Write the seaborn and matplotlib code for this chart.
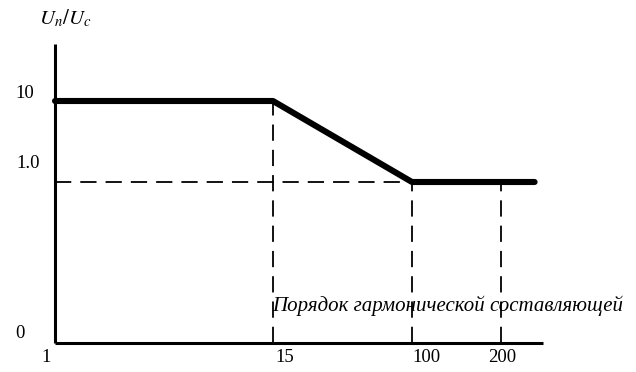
import numpy as np
import matplotlib
matplotlib.use("Agg")
import matplotlib.pyplot as plt
import seaborn as sns
import pandas as pd

# Harmonic-order limit curve (schematic)
orders = [1, 15, 100, 248]
ratio = [10, 10, 1, 1]

# Axis tick values and their labels
tick_orders = [1, 15, 100, 200]
tick_order_labels = ["1", "15", "100", "200"]
tick_levels = [0, 1, 10]
tick_level_labels = ["0", "1.0", "10"]

x_title = "Порядок гармонической составляющей"
y_title = r"$U_n/U_c$"

sns.set_style("white")
plt.rcParams["font.family"] = ["Liberation Serif", "DejaVu Serif"]
plt.rcParams["mathtext.fontset"] = "stix"
plt.rcParams["text.color"] = "black"

fig = plt.figure(figsize=(6.36, 3.72), dpi=100)
ax = fig.add_axes([55 / 636, 29 / 372, 488 / 636, 299 / 372])

# Piecewise schematic scales (not proportional)
xk_val = [1, 15, 100, 200, 260]
xk_pos = [0, 218, 357, 446, 488]
yk_val = [0, 1, 10, 20]
yk_pos = [0, 161, 242, 299]


def fx(v):
    return np.interp(v, xk_val, xk_pos)


def fx_inv(p):
    return np.interp(p, xk_pos, xk_val)


def fy(v):
    return np.interp(v, yk_val, yk_pos)


def fy_inv(p):
    return np.interp(p, yk_pos, yk_val)


ax.set_xscale("function", functions=(fx, fx_inv))
ax.set_yscale("function", functions=(fy, fy_inv))
ax.set_xlim(xk_val[0], xk_val[-1])
ax.set_ylim(yk_val[0], yk_val[-1])

df = pd.DataFrame({"order": orders, "ratio": ratio})

# Dashed guide lines
dash_kw = dict(color="black", lw=1.3, linestyles=(0, (9, 5)))
ax.vlines(orders[1], 0, ratio[1], **dash_kw)
ax.vlines([orders[2], tick_orders[3]], 0, ratio[2], **dash_kw)
ax.hlines(ratio[2], orders[0], orders[2], **dash_kw)

sns.lineplot(data=df, x="order", y="ratio", ax=ax, color="black",
             lw=4.4, solid_capstyle="round", solid_joinstyle="round",
             clip_on=False, zorder=5)

for side in ["top", "right"]:
    ax.spines[side].set_visible(False)
for side in ["left", "bottom"]:
    ax.spines[side].set_linewidth(2.2)
    ax.spines[side].set_color("black")
    ax.spines[side].set_capstyle("butt")

ax.set_xticks([])
ax.set_yticks([])
ax.set_xlabel("")
ax.set_ylabel("")

# Tick labels placed from their values
x_offsets = [-9, 12, 14, 1]
for v, lab, dx in zip(tick_orders, tick_order_labels, x_offsets):
    ax.annotate(lab, xy=(v, 0), xycoords=("data", "axes fraction"),
                xytext=(dx, -15), textcoords="offset pixels",
                ha="center", va="center", fontsize=13.5, color="black")

y_offsets = [(-30, 9), (-15, 18), (-21, 8)]
for v, lab, (dx, dy) in zip(tick_levels, tick_level_labels, y_offsets):
    ax.annotate(lab, xy=(0, v), xycoords=("axes fraction", "data"),
                xytext=(dx, dy), textcoords="offset pixels",
                ha="right", va="center", fontsize=13.5, color="black")

ax.annotate(y_title, xy=(0, 1), xycoords="axes fraction",
            xytext=(10, 26), textcoords="offset pixels",
            ha="center", va="center", fontsize=15, color="black")

ax.text(0.805, 0.124, x_title, transform=ax.transAxes, ha="center",
        va="center", fontsize=15, fontstyle="italic", color="black")

fig.savefig("out.png", dpi=100)
